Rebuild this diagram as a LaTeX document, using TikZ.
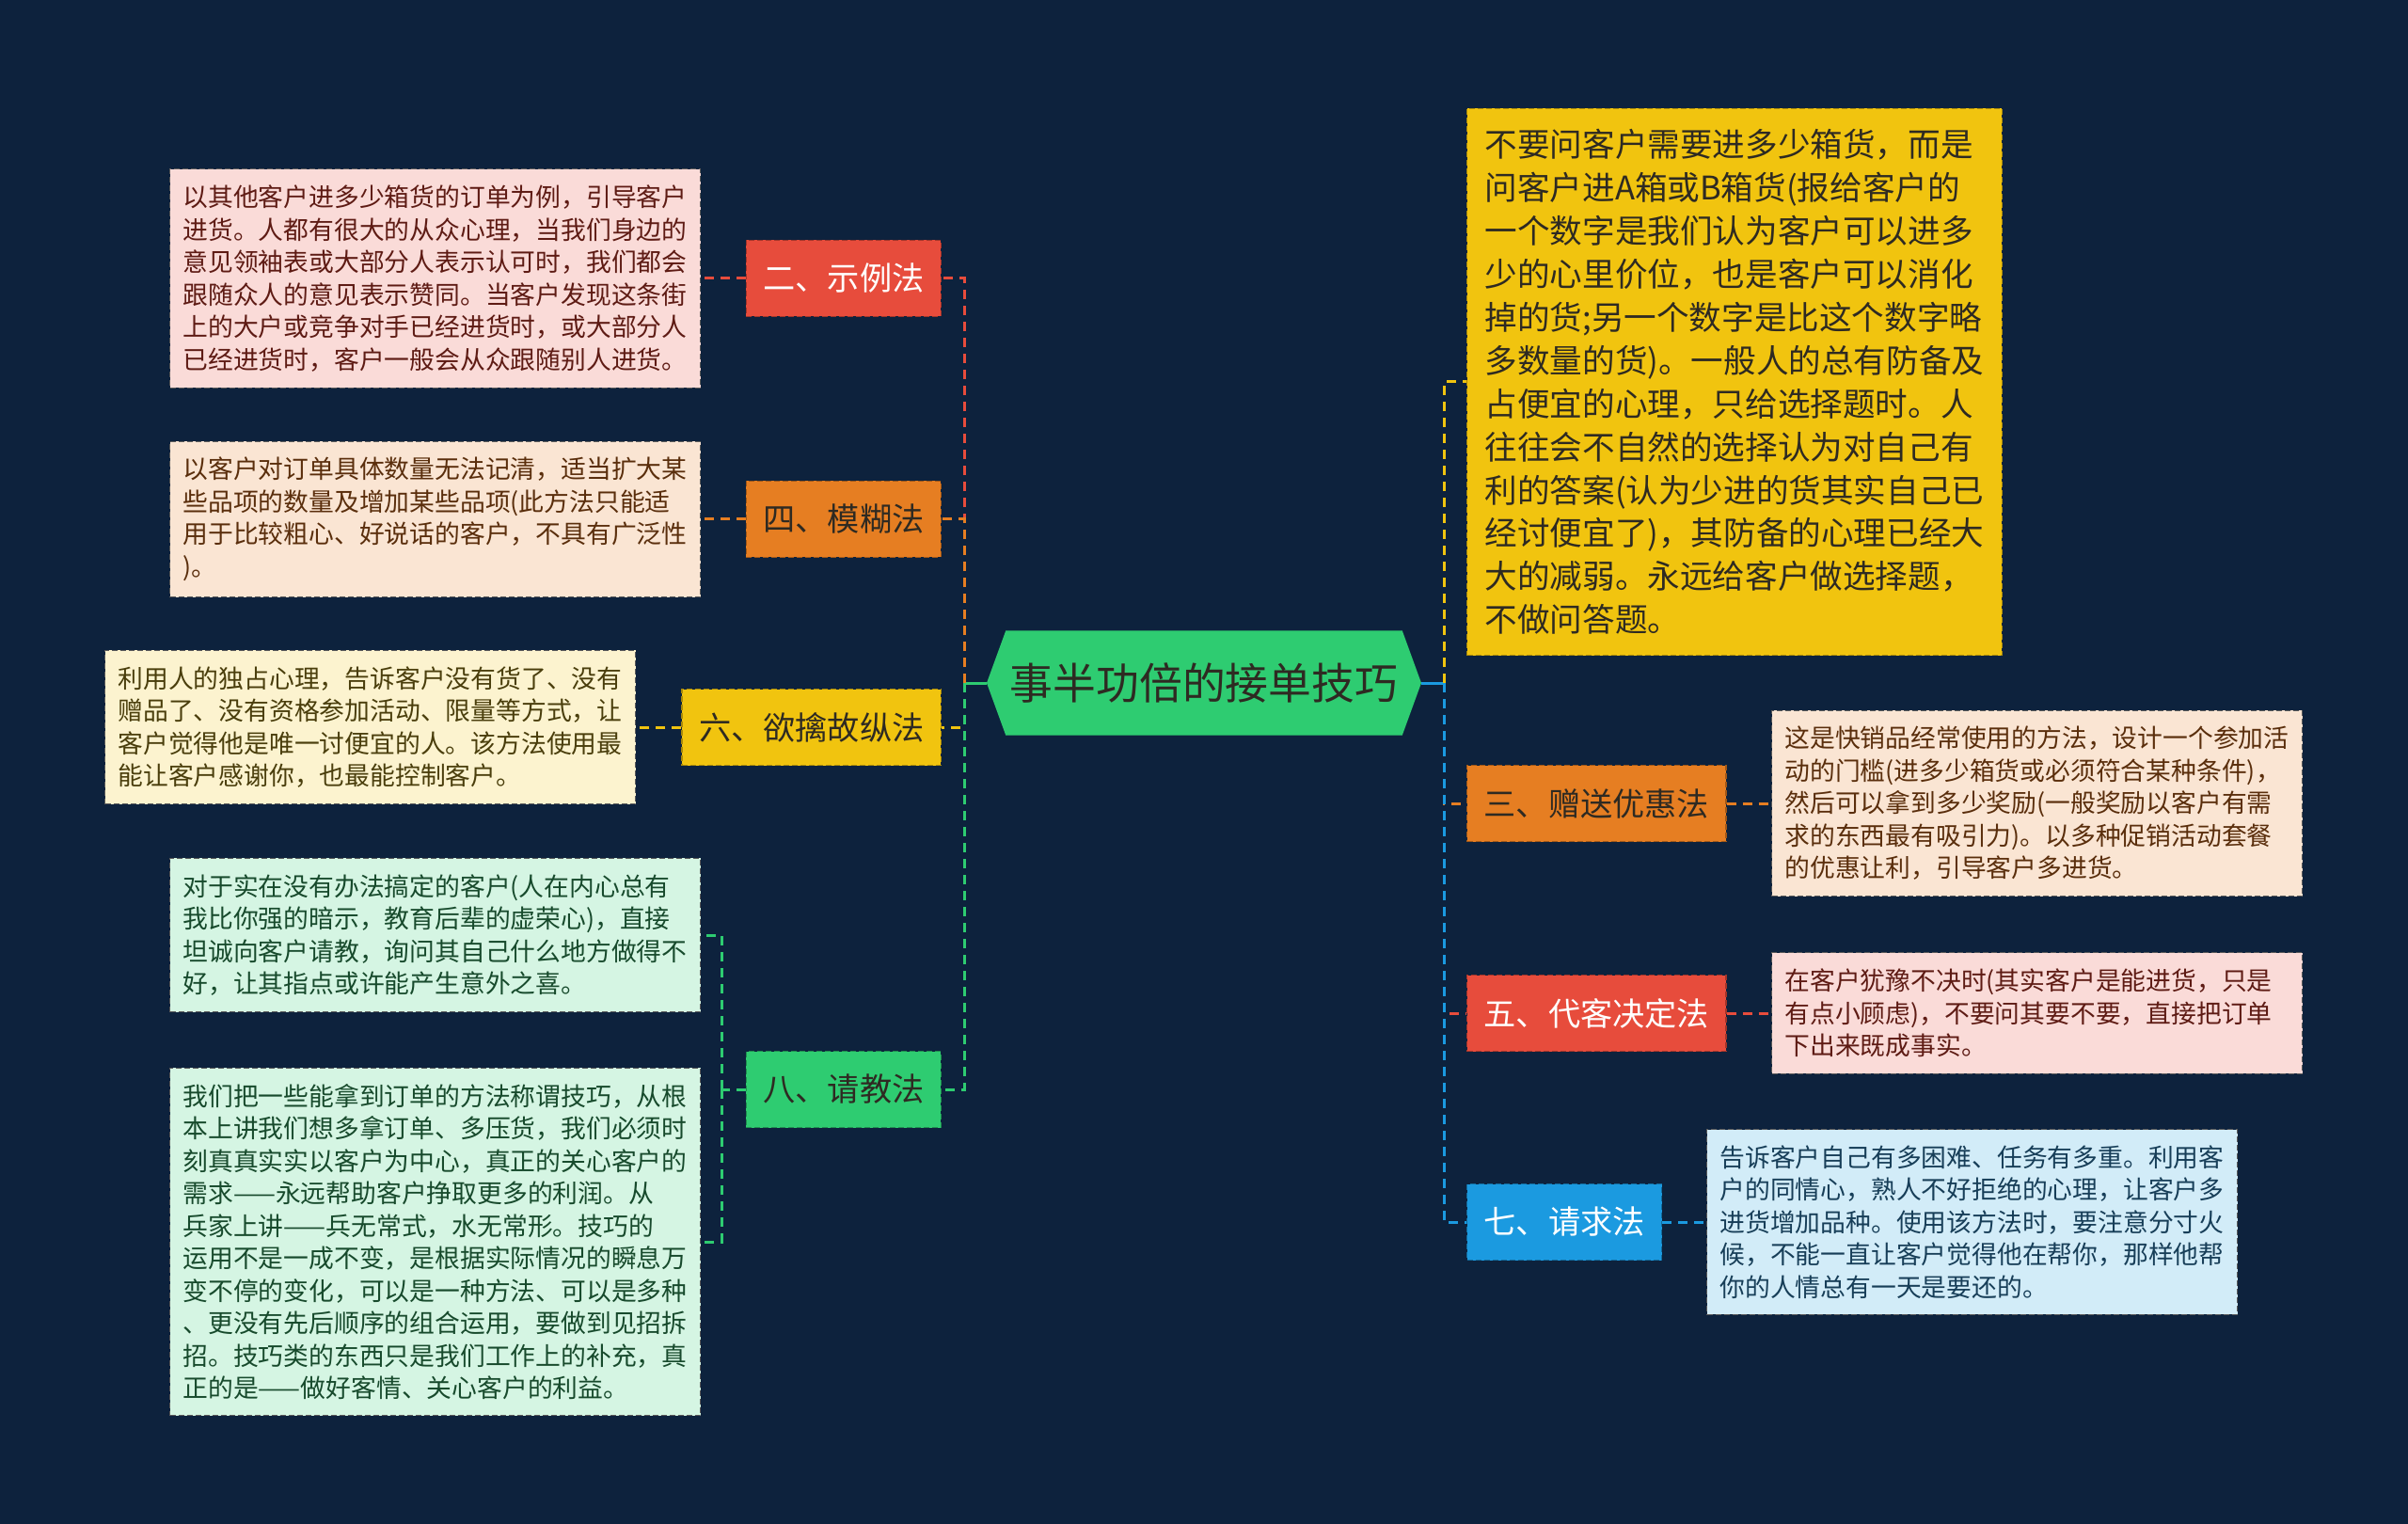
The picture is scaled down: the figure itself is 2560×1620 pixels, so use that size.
\documentclass[tikz,border=0pt]{standalone}
\usepackage{fontspec}
\setmainfont{Noto Sans CJK SC}
\usetikzlibrary{shapes.symbols}
\definecolor{bgnavy}{HTML}{0D223D}
\definecolor{cred}{HTML}{E74C3C}
\definecolor{credlight}{HTML}{FADBD8}
\definecolor{credtext}{HTML}{5E1B14}
\definecolor{corange}{HTML}{E67E22}
\definecolor{corangelight}{HTML}{FAE5D3}
\definecolor{corangetext}{HTML}{5A2E0C}
\definecolor{cyellow}{HTML}{F1C40F}
\definecolor{cyellowlight}{HTML}{FCF3CF}
\definecolor{cyellowtext}{HTML}{4A3E0C}
\definecolor{cgreen}{HTML}{2ECC71}
\definecolor{cgreenlight}{HTML}{D5F5E3}
\definecolor{cgreentext}{HTML}{174A2C}
\definecolor{cblue}{HTML}{1B9AE0}
\definecolor{cbluelight}{HTML}{D2ECF8}
\definecolor{cbluetext}{HTML}{173E58}
\definecolor{darktext}{HTML}{2E2A22}

\begin{document}
\begin{tikzpicture}[
    x=0.5pt, y=-0.5pt,
    root/.style={shape=signal, signal to=west and east, signal pointer angle=140,
      fill=cgreen, text=darktext, inner sep=0pt, minimum width=231pt, minimum height=55.5pt,
      font=\fontsize{22.9pt}{27pt}\selectfont},
    topic/.style={fill=#1, draw=#1!70!black, dashed, dash pattern=on 3pt off 1.5pt,
      line width=0.6pt, inner xsep=9pt, inner ysep=0pt, minimum height=40.5pt,
      font=\fontsize{17.1pt}{20pt}\selectfont},
    bigtopic/.style={topic=#1, align=left, inner xsep=9.5pt, inner ysep=11pt,
      font=\fontsize{17.3pt}{22.95pt}\selectfont},
    detail/.style={fill=#1light, text=#1text, draw=gray!70!black, dashed,
      dash pattern=on 3pt off 1.5pt, line width=0.5pt, align=left, text width=268pt,
      inner xsep=7pt, inner ysep=8.5pt, font=\fontsize{13.4pt}{17.25pt}\selectfont},
    link/.style={dashed, dash pattern=on 5pt off 3.5pt, line width=1.5pt},
    trunk/.style={line width=1.5pt}
  ]
    \fill[bgnavy] (0,0) rectangle (2560,1620);

    \node[root] (root) at (1280,726) {事半功倍的接单技巧};

    % left side
    \node[topic=cred, text=white, anchor=east] (t2) at (1001,296) {二、示例法};
    \node[topic=corange, text=darktext, anchor=east] (t4) at (1001,552) {四、模糊法};
    \node[topic=cyellow, text=darktext, anchor=east] (t6) at (1001,773) {六、欲擒故纵法};
    \node[topic=cgreen, text=darktext, anchor=east] (t8) at (1001,1158) {八、请教法};

    \node[detail=cred, anchor=east] (d2) at (745,296) {以其他客户进多少箱货的订单为例，引导客户\\进货。人都有很大的从众心理，当我们身边的\\意见领袖表或大部分人表示认可时，我们都会\\跟随众人的意见表示赞同。当客户发现这条街\\上的大户或竞争对手已经进货时，或大部分人\\已经进货时，客户一般会从众跟随别人进货。};
    \node[detail=corange, anchor=east] (d4) at (745,552) {以客户对订单具体数量无法记清，适当扩大某\\些品项的数量及增加某些品项(此方法只能适\\用于比较粗心、好说话的客户，不具有广泛性\\)。};
    \node[detail=cyellow, anchor=east] (d6) at (676,773) {利用人的独占心理，告诉客户没有货了、没有\\赠品了、没有资格参加活动、限量等方式，让\\客户觉得他是唯一讨便宜的人。该方法使用最\\能让客户感谢你，也最能控制客户。};
    \node[detail=cgreen, anchor=east] (d8a) at (745,994) {对于实在没有办法搞定的客户(人在内心总有\\我比你强的暗示，教育后辈的虚荣心)，直接\\坦诚向客户请教，询问其自己什么地方做得不\\好，让其指点或许能产生意外之喜。};
    \node[detail=cgreen, anchor=east] (d8b) at (745,1320) {我们把一些能拿到订单的方法称谓技巧，从根\\本上讲我们想多拿订单、多压货，我们必须时\\刻真真实实以客户为中心，真正的关心客户的\\需求——永远帮助客户挣取更多的利润。从\\兵家上讲——兵无常式，水无常形。技巧的\\运用不是一成不变，是根据实际情况的瞬息万\\变不停的变化，可以是一种方法、可以是多种\\、更没有先后顺序的组合运用，要做到见招拆\\招。技巧类的东西只是我们工作上的补充，真\\正的是——做好客情、关心客户的利益。};

    % right side
    \node[bigtopic=cyellow, text=darktext, anchor=west] (t1) at (1559,406) {不要问客户需要进多少箱货，而是\\问客户进A箱或B箱货(报给客户的\\一个数字是我们认为客户可以进多\\少的心里价位，也是客户可以消化\\掉的货;另一个数字是比这个数字略\\多数量的货)。一般人的总有防备及\\占便宜的心理，只给选择题时。人\\往往会不自然的选择认为对自己有\\利的答案(认为少进的货其实自己已\\经讨便宜了)，其防备的心理已经大\\大的减弱。永远给客户做选择题，\\不做问答题。};
    \node[topic=corange, text=darktext, anchor=west] (t3) at (1559,854) {三、赠送优惠法};
    \node[topic=cred, text=white, anchor=west] (t5) at (1559,1077) {五、代客决定法};
    \node[topic=cblue, text=white, anchor=west] (t7) at (1559,1299) {七、请求法};

    \node[detail=corange, anchor=west] (d3) at (1883,854) {这是快销品经常使用的方法，设计一个参加活\\动的门槛(进多少箱货或必须符合某种条件)，\\然后可以拿到多少奖励(一般奖励以客户有需\\求的东西最有吸引力)。以多种促销活动套餐\\的优惠让利，引导客户多进货。};
    \node[detail=cred, anchor=west] (d5) at (1883,1077) {在客户犹豫不决时(其实客户是能进货，只是\\有点小顾虑)，不要问其要不要，直接把订单\\下出来既成事实。};
    \node[detail=cblue, anchor=west] (d7) at (1814,1299) {告诉客户自己有多困难、任务有多重。利用客\\户的同情心，熟人不好拒绝的心理，让客户多\\进货增加品种。使用该方法时，要注意分寸火\\候，不能一直让客户觉得他在帮你，那样他帮\\你的人情总有一天是要还的。};

    % connectors
    \coordinate (lj) at (1025,726);
    \coordinate (rj) at (1535,726);
    \coordinate (j8) at (767,1158);

    \draw[trunk, cgreen] (root.west) -- (lj);
    \draw[link, cred] (lj) |- (t2.east);
    \draw[link, corange] (lj) |- (t4.east);
    \draw[link, cyellow] (lj) |- (t6.east);
    \draw[link, cgreen] (lj) |- (t8.east);
    \draw[link, cred] (t2.west) -- (d2.east);
    \draw[link, corange] (t4.west) -- (d4.east);
    \draw[link, cyellow] (t6.west) -- (d6.east);
    \draw[link, cgreen] (t8.west) -- (j8);
    \draw[link, cgreen] (j8) |- (d8a.east);
    \draw[link, cgreen] (j8) |- (d8b.east);

    \draw[trunk, cblue] (root.east) -- (rj);
    \draw[link, cyellow] (rj) |- (t1.west);
    \draw[link, corange] (rj) |- (t3.west);
    \draw[link, cred] (rj) |- (t5.west);
    \draw[link, cblue] (rj) |- (t7.west);
    \draw[link, corange] (t3.east) -- (d3.west);
    \draw[link, cred] (t5.east) -- (d5.west);
    \draw[link, cblue] (t7.east) -- (d7.west);
  \end{tikzpicture}
\end{document}
